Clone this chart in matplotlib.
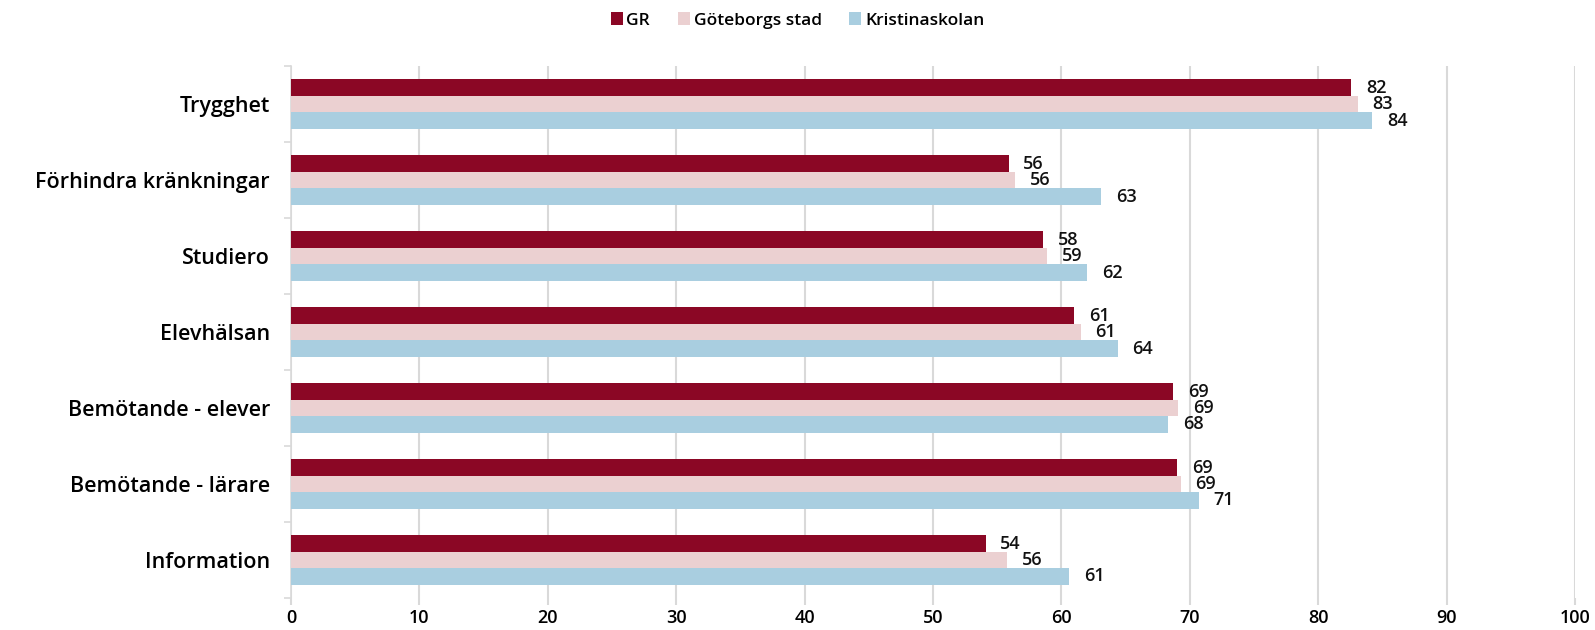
import matplotlib
matplotlib.use("Agg")
import matplotlib.pyplot as plt
import numpy as np

plt.rcParams['font.family'] = ['Open Sans', 'DejaVu Sans']
plt.rcParams['font.weight'] = 600

categories = ['Trygghet', 'Förhindra kränkningar', 'Studiero', 'Elevhälsan',
              'Bemötande - elever', 'Bemötande - lärare', 'Information']
series = ['GR', 'Göteborgs stad', 'Kristinaskolan']
colors = ['#8B0725', '#EBD0D1', '#A9CEE0']

gr = [82.6, 55.9, 58.6, 61.0, 68.7, 69.0, 54.1]
gbg = [83.1, 56.4, 58.9, 61.5, 69.1, 69.3, 55.8]
kristina = [84.2, 63.1, 62.0, 64.4, 68.3, 70.7, 60.6]

gr_labels = ['82', '56', '58', '61', '69', '69', '54']
gbg_labels = ['83', '56', '59', '61', '69', '69', '56']
kristina_labels = ['84', '63', '62', '64', '68', '71', '61']

values = [gr, gbg, kristina]
labels = [gr_labels, gbg_labels, kristina_labels]

fig = plt.figure(figsize=(15.95, 6.3), dpi=100)
ax = fig.add_axes([0.1824, 0.0508, 0.805, 0.8444])

y = np.arange(len(categories))
h = 0.217
for k, (vals, labs, col, name) in enumerate(zip(values, labels, colors, series)):
    pos = y + (k - 1) * h
    ax.barh(pos, vals, height=h, color=col, label=name, zorder=3)
    for p, v, t in zip(pos, vals, labs):
        ax.text(v + 1.15, p, t, va='center', ha='left', fontsize=13,
                color='#111111', zorder=4)

ax.set_xlim(0, 100)
ax.set_ylim(len(categories) - 0.5, -0.5)
ax.set_xticks(np.arange(0, 101, 10))
ax.set_yticks(y)
ax.set_yticklabels(categories, fontsize=15.5)
ax.set_yticks(np.arange(-0.5, len(categories), 1), minor=True)

ax.tick_params(axis='y', which='major', length=0, pad=15)
ax.tick_params(axis='y', which='minor', length=5, color='#d9d9d9', width=1.2)
ax.tick_params(axis='x', length=5, color='#d9d9d9', width=1.5, labelsize=13, pad=3)

ax.grid(axis='x', color='#d9d9d9', linewidth=1.5, zorder=0)
for s in ['top', 'right', 'bottom']:
    ax.spines[s].set_visible(False)
ax.spines['left'].set_color('#d9d9d9')
ax.spines['left'].set_linewidth(1.2)

fig.legend(loc='upper center', bbox_to_anchor=(0.5, 1.005), ncol=3, frameon=False,
           handlelength=0.7, handleheight=0.7, handletextpad=0.2,
           columnspacing=1.6, prop={'size': 12.5, 'weight': 600})

fig.savefig('out.png', dpi=100)
